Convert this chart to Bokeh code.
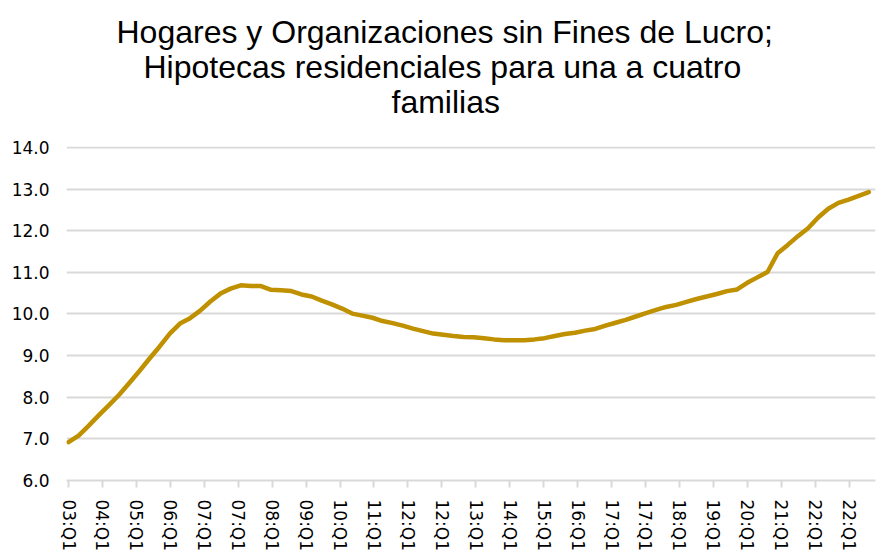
from bokeh.plotting import figure
from bokeh.models import Range1d, FixedTicker, PrintfTickFormatter, Title
from bokeh.embed import file_html
from bokeh.resources import INLINE

# ---- data ----
title_lines = ["Hogares y Organizaciones sin Fines de Lucro;",
               "Hipotecas residenciales para una a cuatro",
               "familias"]

values = [6.92, 7.08, 7.32, 7.57, 7.81, 8.06, 8.34, 8.63, 8.93, 9.22,
          9.53, 9.77, 9.90, 10.08, 10.30, 10.49, 10.61, 10.69, 10.67, 10.67,
          10.58, 10.57, 10.55, 10.47, 10.42, 10.32, 10.23, 10.13, 10.01, 9.96,
          9.91, 9.83, 9.78, 9.72, 9.65, 9.59, 9.53, 9.50, 9.47, 9.45,
          9.44, 9.42, 9.39, 9.37, 9.37, 9.37, 9.39, 9.42, 9.47, 9.52,
          9.55, 9.60, 9.64, 9.72, 9.79, 9.86, 9.94, 10.02, 10.10, 10.17,
          10.22, 10.29, 10.36, 10.42, 10.48, 10.55, 10.59, 10.75, 10.88, 11.01,
          11.46, 11.66, 11.87, 12.06, 12.32, 12.53, 12.67, 12.75, 12.84, 12.93]

tick_labels = ["03:Q1", "04:Q1", "05:Q1", "06:Q1", "07:Q1", "07:Q1", "08:Q1",
               "09:Q1", "10:Q1", "11:Q1", "12:Q1", "12:Q1", "13:Q1", "14:Q1",
               "15:Q1", "16:Q1", "17:Q1", "17:Q1", "18:Q1", "19:Q1", "20:Q1",
               "21:Q1", "22:Q1", "22:Q1"]

y_ticks = [6, 7, 8, 9, 10, 11, 12, 13, 14]

# ---- styling / layout ----
TICK_STEP = 3.35
TITLE_FONT = "Liberation Sans"
TICK_FONT = "DejaVu Sans"
GRID = "#d9d9d9"
GOLD = "#BF9000"
TITLE_OFFSETS = [50, 77, 325]   # left offset of each centred title line, px

x = list(range(len(values)))
xticks = [round(i * TICK_STEP, 2) for i in range(len(tick_labels))]

p = figure(width=889, height=555, output_backend="svg", toolbar_location=None,
           x_range=Range1d(-0.2, 79.66), y_range=Range1d(6, 14.024),
           min_border_left=66, min_border_right=14, min_border_top=146,
           min_border_bottom=75)
p.outline_line_color = None
p.background_fill_color = "white"
p.border_fill_color = "white"

p.line(x, values, line_color=GOLD, line_width=4.5, line_join="round", line_cap="round")

# spacer between plot and title block
p.add_layout(Title(text=" ", text_font_size="1px", standoff=24.5), "above")
# title lines: stacked outward from the plot, so add the last line first
for line, off in zip(reversed(title_lines), reversed(TITLE_OFFSETS)):
    t = Title(text=line, align="left", offset=off, text_font=TITLE_FONT,
              text_font_size="32px", text_font_style="normal", text_color="black",
              standoff=-3)
    p.add_layout(t, "above")

# x axis
xa = p.xaxis[0]
xa.ticker = FixedTicker(ticks=xticks)
xa.major_label_overrides = {k: v for k, v in zip(xticks, tick_labels)}
xa.major_label_orientation = "vertical"
xa.major_label_text_font = TICK_FONT
xa.major_label_text_font_size = "17px"
xa.major_label_text_color = "black"
xa.axis_line_color = GRID
xa.axis_line_width = 2
xa.major_tick_line_color = GRID
xa.major_tick_line_width = 2
xa.major_tick_out = 7
xa.major_tick_in = 0
xa.minor_tick_line_color = None
xa.major_label_standoff = 12

# y axis
ya = p.yaxis[0]
ya.ticker = FixedTicker(ticks=y_ticks)
ya.formatter = PrintfTickFormatter(format="%.1f")
ya.major_label_text_font = TICK_FONT
ya.major_label_text_font_size = "17px"
ya.major_label_text_color = "black"
ya.axis_line_color = None
ya.major_tick_line_color = None
ya.minor_tick_line_color = None
ya.major_label_standoff = 11

p.xgrid.grid_line_color = None
p.ygrid.grid_line_color = GRID
p.ygrid.grid_line_width = 2
p.ygrid.ticker = FixedTicker(ticks=y_ticks)

open("out.html", "w").write(file_html(p, INLINE))
